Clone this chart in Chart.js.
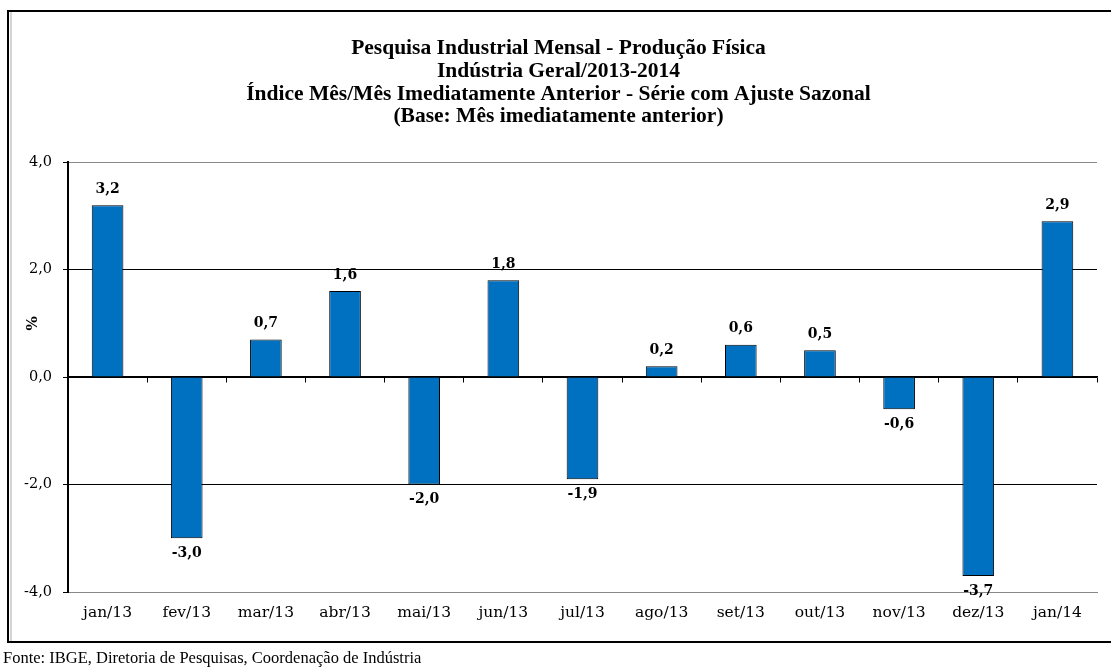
<!DOCTYPE html>
<html>
<head>
<meta charset="utf-8">
<script src="https://cdn.jsdelivr.net/npm/chart.js@4"></script>
<style>
  body { margin: 0; background: #fff; overflow: hidden; }
  #wrap { position: relative; width: 1111px; height: 668px; overflow: hidden; }
  #fonte { position: absolute; left: 3px; top: 648px; font-family: "Liberation Serif"; font-size: 16.5px; color: #000; white-space: nowrap; }
  canvas { position: absolute; left: 0; top: 0; }
</style>
</head>
<body>
<div id="wrap">
  <canvas id="grafico" width="1111" height="668"></canvas>
  <div id="fonte">Fonte: IBGE, Diretoria de Pesquisas, Coordenação de Indústria</div>
</div>
<script>
var meses = ['jan/13', 'fev/13', 'mar/13', 'abr/13', 'mai/13', 'jun/13', 'jul/13', 'ago/13', 'set/13', 'out/13', 'nov/13', 'dez/13', 'jan/14'];
var variacao = [3.2, -3.0, 0.7, 1.6, -2.0, 1.8, -1.9, 0.2, 0.6, 0.5, -0.6, -3.7, 2.9];
var titulo = [
  'Pesquisa Industrial Mensal - Produção Física',
  'Indústria Geral/2013-2014',
  'Índice Mês/Mês Imediatamente Anterior - Série com Ajuste Sazonal',
  '(Base: Mês imediatamente anterior)'
];
var marcasY = [-4, -2, 0, 2, 4];

function virgula(v) {
  return v.toFixed(1).replace('.', ',');
}

// moldura do grafico (aberta do lado direito, como no original)
var moldura = {
  id: 'moldura',
  beforeDraw: function(chart) {
    var ctx = chart.ctx;
    ctx.save();
    ctx.strokeStyle = '#d4d4d4';
    ctx.lineWidth = 2;
    ctx.beginPath();
    ctx.moveTo(11, 12);
    ctx.lineTo(11, 641);
    ctx.stroke();
    ctx.strokeStyle = '#000';
    ctx.lineWidth = 2;
    ctx.beginPath();
    ctx.moveTo(chart.width + 5, 11);
    ctx.lineTo(8, 11);
    ctx.lineTo(8, 642);
    ctx.lineTo(chart.width + 5, 642);
    ctx.stroke();
    ctx.restore();
  }
};

// rotulos de dados em cima / embaixo das barras
var rotulos = {
  id: 'rotulos',
  afterDatasetsDraw: function(chart) {
    var ctx = chart.ctx;
    var meta = chart.getDatasetMeta(0);
    ctx.save();
    ctx.font = 'bold 14px "DejaVu Serif"';
    ctx.fillStyle = '#000';
    ctx.textAlign = 'center';
    ctx.textBaseline = 'middle';
    meta.data.forEach(function(bar, i) {
      var v = variacao[i];
      var y = v >= 0 ? bar.y - 16 : bar.y + 15;
      ctx.fillText(virgula(v), bar.x, y);
    });
    ctx.restore();
  }
};

// titulo do eixo "%" (no Excel fica um pouco acima do centro)
var tituloEixo = {
  id: 'tituloEixo',
  afterDraw: function(chart) {
    var ctx = chart.ctx;
    var y = chart.scales.y;
    ctx.save();
    ctx.translate(33, y.getPixelForValue(1));
    ctx.rotate(-Math.PI / 2);
    ctx.font = 'bold 15px "DejaVu Serif"';
    ctx.fillStyle = '#000';
    ctx.textAlign = 'center';
    ctx.textBaseline = 'middle';
    ctx.fillText('%', 0, 0);
    ctx.restore();
  }
};

var ctx = document.getElementById('grafico');
var grafico = new Chart(ctx, {
  type: 'bar',
  data: {
    labels: meses,
    datasets: [{
      data: variacao,
      backgroundColor: '#0070C0',
      borderColor: '#000',
      borderWidth: 1,
      barPercentage: 1,
      categoryPercentage: 0.4
    }]
  },
  options: {
    responsive: false,
    animation: false,
    devicePixelRatio: 1,
    layout: { padding: { top: 12, left: 20, right: 14, bottom: 25 } },
    plugins: {
      legend: { display: false },
      tooltip: { enabled: false },
      title: {
        display: true,
        text: titulo,
        color: '#000',
        font: { family: 'Liberation Serif', size: 21.5, weight: 'bold', lineHeight: 1.06 },
        padding: { top: 25, bottom: 34 }
      }
    },
    scales: {
      x: {
        position: 'bottom',
        offset: true,
        border: { color: '#888', width: 1 },
        grid: {
          offset: true,
          drawTicks: false,
          color: function(c) { return c.index === meses.length ? '#888' : 'rgba(0,0,0,0)'; }
        },
        ticks: { color: '#000', padding: 12, font: { family: 'DejaVu Serif', size: 15.5 } },
        afterFit: function(s) { s.height = 51; }
      },
      zero: {
        type: 'category',
        axis: 'x',
        labels: meses,
        position: { y: 0 },
        offset: true,
        border: { color: '#000', width: 1.5 },
        grid: { offset: true, drawOnChartArea: false, drawTicks: true, tickLength: 5, tickColor: '#000' },
        ticks: { display: false }
      },
      y: {
        min: -4,
        max: 4,
        afterBuildTicks: function(s) { s.ticks = marcasY.map(function(v) { return { value: v }; }); },
        border: { color: '#000', width: 2 },
        grid: {
          tickLength: 5,
          tickColor: '#000',
          color: function(c) { return (c.tick.value === 4 || c.tick.value === -4) ? '#888' : '#000'; }
        },
        ticks: {
          color: '#000',
          padding: 11,
          font: { family: 'DejaVu Serif', size: 14.5 },
          callback: function(v) { return virgula(v); }
        },
        afterFit: function(s) { s.width = 48; }
      }
    }
  },
  plugins: [moldura, rotulos, tituloEixo]
});
</script>
</body>
</html>
